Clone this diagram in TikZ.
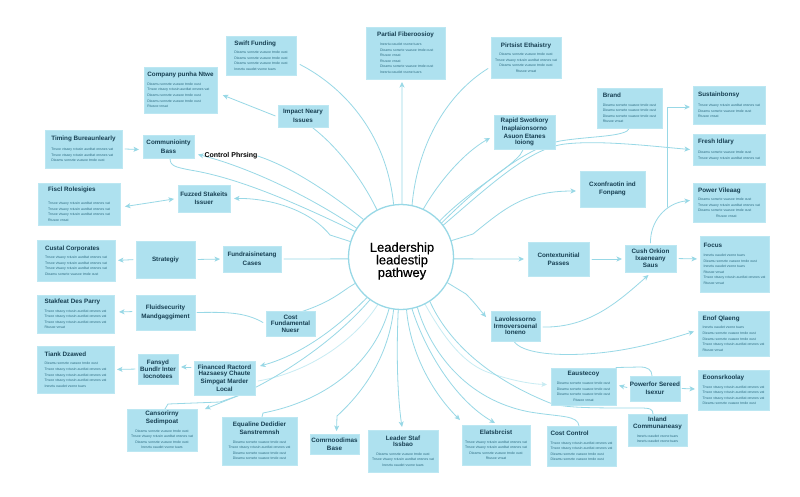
\documentclass[tikz,border=0pt]{standalone}
\usepackage{fontspec}
\setmainfont{Liberation Sans}
\newfontfamily\heavyface[FakeBold=.35]{Liberation Sans}
\usetikzlibrary{arrows.meta,backgrounds,calc}
\definecolor{boxfill}{HTML}{AEE1EF}
\definecolor{boxedge}{HTML}{BCE7F2}
\definecolor{linec}{HTML}{98D8E6}
\definecolor{lightc}{HTML}{C8ECF3}
\definecolor{ttlc}{HTML}{173F52}
\definecolor{bodyc}{HTML}{2E6C82}
\tikzset{
 box/.style={draw=boxedge,line width=.6pt,fill=boxfill,inner sep=0pt,outer sep=0pt,text=ttlc,font=\fontsize{3.5}{5.6}\selectfont},
 conn/.style={draw=linec,line width=.8pt,line cap=round},
 arr/.style={conn,-{Stealth[length=5.5pt,width=5pt,inset=1.5pt]}},
 both/.style={conn,{Stealth[length=5.5pt,width=5pt,inset=1.5pt]}-{Stealth[length=5.5pt,width=5pt,inset=1.5pt]}},
 faint/.style={conn,draw=lightc},
 gap/.style={shorten >=3pt,shorten <=3pt}
}
\newcommand\tl[1]{{\fontsize{6.3}{7.6}\selectfont\bfseries #1}}
\newcommand\bA{{\color{bodyc}Tnsoe vtsaoy rctusin aurdtat onsnes vat}}
\newcommand\bB{{\color{bodyc}Dieamu sonsrte vuasoe trnde oust}}
\newcommand\bC{{\color{bodyc}Inesrtu oaudet vsone tuars}}
\newcommand\bD{{\color{bodyc}Rtusoe vnsat}}
% \bx[align]{name}{x1}{y1}{x2}{y2}{content}
\newcommand\bx[6][center]{%
 \pgfmathsetmacro\bxcx{(#3+#5)/2}\pgfmathsetmacro\bxcy{(#4+#6)/2}%
 \pgfmathsetmacro\bxw{#5-#3}\pgfmathsetmacro\bxh{#6-#4}%
 \node[box,align=#1,minimum width=\bxw pt,minimum height=\bxh pt] (#2) at (\bxcx,\bxcy)}
\begin{document}
\begin{tikzpicture}[x=1pt,y=-1pt]
\useasboundingbox (0,0) rectangle (800,496);
\begin{scope}[on background layer]
\fill[white] (0,0) rectangle (800,496);
\end{scope}
\node[draw=linec,line width=1.3pt,fill=white,circle,minimum size=105pt,inner sep=0pt] (c) at (401,257) {};
\node[inner sep=0pt,align=center,text=black,font=\heavyface\fontsize{13}{12.6}\selectfont] (ctitle) at (402,261) {Leadership\\leadestip\\pathwey};

\bx[left]{swift}{226}{36}{296}{75} {\tl{Swift Funding}\\[3pt]\bB\\\bB\\\bB\\\bC};
\bx[left]{company}{144}{67}{217}{113} {\tl{Company punha Ntwe}\\[3pt]\bB\\\bA\\\bB\\\bB\\\bD};
\bx{impact}{278}{105}{328}{127} {\tl{Impact Neary}\\[2pt]\tl{Issues}};
\bx[left]{timing}{45}{130}{122}{168} {\tl{Timing Bureaunlearly}\\[4pt]\bA\\\bA\\\bB};
\bx{community}{143}{135}{194}{158} {\tl{Communiointy}\\[2pt]\tl{Bass}};
\node[text=black,font=\fontsize{7}{8}\selectfont\bfseries,inner sep=0pt] (phr) at (231,156) {Control Phrsing};
\bx{feed}{178}{185}{230}{212} {\tl{Fuzzed Stakeits}\\[2pt]\tl{Issuer}};
\bx[left]{fiscal}{38}{183}{120}{225} {\tl{Fiscl Rolesigies}\\[8pt]\bA\\\bA\\\bA\\\bD};
\bx[left]{partial}{366}{27}{445}{79} {\tl{Partial Fiberoosioy}\\[3pt]\ \ \ \bC\\\ \ \ \bB\\\ \ \ \bD\\\ \ \ \bD\\\ \ \ \bB\\\ \ \ \bC};
\bx{ethics}{491}{37}{561}{78} {\tl{Pirtsist Ethaistry}\\[3pt]\bB\\\bA\\\bB\\\bD};
\bx{rapid}{494}{115}{555}{149} {\tl{Rapid Swotkory}\\[1pt]\tl{Inaplaionsorno}\\[1pt]\tl{Asuon Etanes}\\[1pt]\tl{Ioiong}};
\bx[left]{brand}{597}{88}{662}{128} {\tl{Brand}\\[3pt]\bB\\\bB\\\bB\\\bD};
\bx[left]{sustain}{693}{86}{765}{124} {\tl{Sustainbonsy}\\[4pt]\bA\\\bB\\\bD};
\bx[left]{fresh}{693}{134}{765}{165} {\tl{Fresh Idlary}\\[4pt]\bB\\\bA};
\bx{cost}{580}{171}{645}{207} {\tl{Cxonfraotin ind}\\[2pt]\tl{Fonpang}};
\bx[left]{powerv}{693}{183}{765}{222} {\tl{Power Vileaag}\\[3pt]\bB\\\bA\\\bB\\\hspace{18pt}\bD};
\bx[left]{focus}{700}{236}{769}{292} {\tl{Focus}\\[3pt]\bC\\\bB\\\bC\\\bD\\\bA\\\bD};
\bx{center}{625}{245}{676}{272} {\tl{Cush Orkion}\\[1pt]\tl{Ixaeneany}\\[1pt]\tl{Saus}};
\bx{context}{528}{242}{589}{276} {\tl{Contextunitial}\\[2pt]\tl{Passes}};
\bx{lower}{491}{311}{540}{341} {\tl{Lavolessorno}\\[1pt]\tl{Irmoversoenal}\\[1pt]\tl{Ioneno}};
\bx[left]{fast}{698}{311}{769}{356} {\tl{Enof Qlaeng}\\[3pt]\bC\\\bB\\\bB\\\bA\\\bD};
\bx{economy}{551}{368}{616}{405} {\tl{Eaustecoy}\\[3pt]\bB\\\bB\\\bB\\\bD};
\bx{powers}{630}{376}{680}{401} {\tl{Powerfor Sereed}\\[2pt]\tl{Isexur}};
\bx[left]{econ}{698}{370}{769}{410} {\tl{Eoonsrkoolay}\\[3pt]\bA\\\bA\\\bA\\\bB};
\bx{bcomm}{628}{414}{687}{446} {\tl{Inland}\\[1pt]\tl{Communaneasy}\\[3pt]\bC\\\bC};
\bx[left]{cctrl}{547}{426}{616}{466} {\tl{Cost Control}\\[3pt]\bA\\\bA\\\bB\\\bB};
\bx{edit}{462}{425}{530}{465} {\tl{Elatsbrcist}\\[3pt]\bA\\\bA\\\bB\\\bD};
\bx{lead}{368}{430}{438}{472} {\tl{Leader Staf}\\[1pt]\tl{Issbao}\\[3pt]\bB\\\bA\\\bC};
\bx{comms}{310}{434}{359}{454} {\tl{Comrnoodimas}\\[2pt]\tl{Base}};
\bx{equal}{222}{417}{297}{465} {\tl{Equaline Dedidier}\\[1pt]\tl{Sanstremnsh}\\[3pt]\bB\\\bA\\\bB\\\bB};
\bx{csupp}{127}{409}{197}{451} {\tl{Cansorirny}\\[1pt]\tl{Sedimpoat}\\[3pt]\bB\\\bA\\\bB\\\bC};
\bx{financed}{194}{361}{255}{395} {\tl{Financed Ractord}\\[1pt]\tl{Hazsaesy Chaute}\\[1pt]\tl{Simpgat Marder}\\[1pt]\tl{Local}};
\bx{funnel}{138}{354}{178}{384} {\tl{Fansyd}\\[1pt]\tl{Bundlr Inter}\\[1pt]\tl{Iocnotees}};
\bx[left]{trade}{37}{346}{114}{393} {\tl{Tiank Dzawed}\\[3pt]\bB\\\bA\\\bA\\\bA\\\bC};
\bx[left]{stab}{37}{295}{114}{333} {\tl{Stakfeat Des Parry}\\[3pt]\bA\\\bA\\\bA\\\bD};
\bx{finmgmt}{136}{295}{195}{330} {\tl{Fluidsecurity}\\[2pt]\tl{Mandgaggiment}};
\bx{costfund}{266}{311}{315}{336} {\tl{Cost}\\[1pt]\tl{Fundamental}\\[1pt]\tl{Nuesr}};
\bx[left]{custom}{37}{240}{115}{281} {\tl{Custal Corporates}\\[3pt]\bA\\\bA\\\bA\\\bB};
\bx{strat}{136}{241}{195}{278} {\tl{Strategiy}};
\bx{fundr}{223}{246}{281}{272} {\tl{Fundraisinetang}\\[2pt]\tl{Cases}};

\coordinate (sfree) at (667,207);
\coordinate (lightend) at (258,381);
\coordinate (ffork) at (240,395);

\begin{scope}[on background layer]
% upper left
\draw[conn] (c.98) .. controls (386,130) and (340,85) .. ($(swift.east)+(4,9)$);
\draw[conn] (c.117) .. controls (360,175) and (335,145) .. ($(impact.south)+(10,1)$);
\draw[arr,gap] (impact.west) ++(0,1) -- ($(company.east)+(3,4)$);
\draw[conn] (c.151) .. controls (300,205) and (240,178) .. (190,170) .. controls (175,167) and (170,166) .. ($(community.south)+(1.5,0)$);
\draw[arr] (c.147) .. controls (300,190) and (240,165) .. ($(community.east)+(4,8)$);
\draw[conn] (c.135) .. controls (320,185) and (285,165) .. (phr.east);
\draw[arr] (c.163) -- (330,235) .. controls (310,210) and (270,198) .. ($(feed.east)+(4,0)$);
\draw[arr] (timing.east) ++(3,0) -- ($(community.west)+(-4,3)$);
\draw[both,gap] (fiscal.east) ++(2,3) -- ($(feed.west)+(-1,0)$);
% top
\draw[arr] (c.89) -- ($(partial.south)+(-3.5,3)$);
\draw[conn] (c.78) .. controls (418,140) and (450,92) .. ($(ethics.west)+(-3,11)$);
\draw[arr] (c.65) .. controls (440,180) and (465,152) .. ($(rapid.west)+(-4,6)$);
\draw[conn] (c.43) .. controls (470,190) and (505,172) .. (520,155) -- ($(rapid.south)+(-1,0)$);
\draw[conn] (c.40) .. controls (480,185) and (525,148) .. (560,141) .. controls (590,136) and (627,137) .. (brand.south);
\draw[arr] (c.37) .. controls (490,185) and (530,148) .. (565,144) .. controls (600,140) and (650,146) .. ($(fresh.west)+(-3,0)$);
\draw[arr] (c.18) -- (473,234) .. controls (505,208) and (525,191) .. ($(cost.west)+(-4,2)$);
\draw[arr,line width=1pt] (sfree) |- ($(sustain.west)+(-3,2)$);
\draw[arr] (center.north) ++(0,-2) .. controls (650,222) and (665,203) .. ($(powerv.west)+(-3,-2)$);
% right
\draw[arr] (c.-2) -- ($(context.west)+(-4,0)$);
\draw[arr,gap] (context.east) -- ($(center.west)+(0,.5)$);
\draw[arr,gap] (center.east) -- ($(focus.west)+(0,-5)$);
\draw[arr] (c.-29) -- (466,294) .. controls (475,303) and (480,310) .. ($(lower.west)+(-5,-9)$);
\draw[arr] (lower.east) ++(3,1) .. controls (590,328) and (620,300) .. ($(center.south)+(-2,3)$);
\draw[arr] (lower.south) ++(-1,1) .. controls (522,352) and (550,356) .. (585,354) .. controls (625,352) and (660,342) .. ($(fast.west)+(-4,-2)$);
\draw[faint,-{Stealth[length=5.5pt,width=5pt,inset=1.5pt]}] (c.-63) .. controls (445,340) and (465,365) .. (490,373) .. controls (510,380) and (530,384) .. ($(economy.west)+(-4,-2)$);
\draw[conn] (c.-57) .. controls (445,335) and (480,375) .. (550,403) .. controls (565,408) and (590,408) .. (640,408) .. controls (650,408) and (653,409) .. ($(bcomm.north)+(-4.5,0)$);
\draw[conn] (powers.north) ++(-3,0) .. controls (652,370) and (648,367) .. (640,367) -- ($(economy.east)+(0,-19)$);
\draw[arr] (powers.west) ++(-3,-1) -- ($(economy.east)+(3,-1)$);
\draw[arr] (powers.east) ++(2,0) -- ($(econ.west)+(-3,-1)$);
% bottom
\draw[conn] (c.-72) .. controls (430,350) and (465,400) .. (530,412) .. controls (560,417) and (578,415) .. ($(cctrl.north)+(-2.5,0)$);
\draw[arr] (c.-78) .. controls (425,350) and (455,400) .. ($(edit.north)+(-1,-2)$);
\draw[arr] (c.-84) .. controls (410,350) and (430,390) .. (460,420);
\draw[arr] (c.-93) .. controls (396,360) and (398,400) .. ($(lead.north)+(-1,-3)$);
\draw[arr] (c.-98) .. controls (388,360) and (360,395) .. (337,416) -- ($(comms.north)+(2,-3)$);
\draw[conn] (c.-103) .. controls (375,360) and (330,400) .. (263,413) -- ($(equal.north)+(2.5,0)$);
% lower left
\draw[faint] (c.-116) .. controls (355,340) and (310,372) .. (lightend);
\draw[arr] (c.-130) .. controls (335,330) and (300,355) .. ($(financed.east)+(5,-12)$);
\draw[arr] (c.-126) .. controls (340,335) and (290,372) .. (ffork) -- (205,409);
\draw[conn] (ffork) -- (220,402) -- (168,404) -- ($(csupp.north)+(3,0)$);
\draw[arr] (c.-150) .. controls (340,292) and (332,303) .. ($(costfund.north)+(-3,5)$);
\draw[conn] (finmgmt.east) ++(2,0) .. controls (225,312) and (245,312) .. ($(costfund.west)+(-3,-1)$);
\draw[arr,gap] (finmgmt.west) ++(-1,-1) -- ($(stab.east)+(2,-2)$);
\draw[arr,gap] (financed.west) ++(0,-11) -- ($(funnel.east)+(0,-2)$);
\draw[arr,gap] (funnel.west) -- (trade.east);
\draw[arr,gap] (strat.west) -- (custom.east);
\draw[arr,gap] (strat.east) -- (fundr.west);
\draw[conn] (fundr.east) ++(3,0) -- (c.182);
\end{scope}
\end{tikzpicture}
\end{document}
